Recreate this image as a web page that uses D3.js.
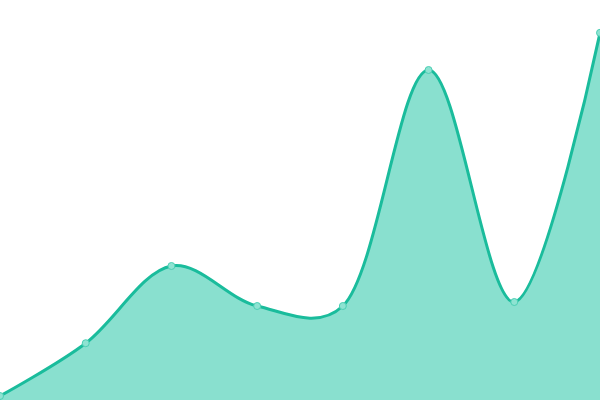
<!DOCTYPE html>
<html>
<head>
<meta charset="utf-8">
<script src="https://cdn.jsdelivr.net/npm/d3@7"></script>
<style>
  html, body { margin: 0; padding: 0; background: #fff; }
  svg { display: block; }
</style>
</head>
<body>
<svg id="chart" width="600" height="400"></svg>
<script>
var WIDTH = 600, HEIGHT = 400;
var LINE_COLOR = "#1abc9c";
var AREA_COLOR = "#89e0cf";

// one value per step along the x axis
var steps = [0, 1, 2, 3, 4, 5, 6, 7];
var values = [1, 14.2, 33.5, 23.5, 23.5, 82.5, 24.5, 91.8];

var x = d3.scaleLinear().domain([0, steps.length - 1]).range([0, WIDTH]);
var y = d3.scaleLinear().domain([0, 100]).range([HEIGHT, 0]);

var data = steps.map(function(s, i) { return {step: s, value: values[i]}; });

var curve = d3.curveCatmullRom.alpha(0.3);

var svg = d3.select("#chart");

var area = d3.area()
	.curve(curve)
	.x(function(d) { return x(d.step); })
	.y0(HEIGHT)
	.y1(function(d) { return y(d.value); });

var line = d3.line()
	.curve(curve)
	.x(function(d) { return x(d.step); })
	.y(function(d) { return y(d.value); });

svg.append("path")
	.datum(data)
	.attr("d", area)
	.attr("fill", AREA_COLOR);

svg.append("path")
	.datum(data)
	.attr("d", line)
	.attr("fill", "none")
	.attr("stroke", LINE_COLOR)
	.attr("stroke-width", 3);

svg.selectAll("circle.dot")
	.data(data)
	.enter().append("circle")
	.attr("class", "dot")
	.attr("cx", function(d) { return x(d.step); })
	.attr("cy", function(d) { return y(d.value); })
	.attr("r", 3.5)
	.attr("fill", "#8ee3d2")
	.attr("stroke", "#4ccfb4")
	.attr("stroke-width", 1);
</script>
</body>
</html>
